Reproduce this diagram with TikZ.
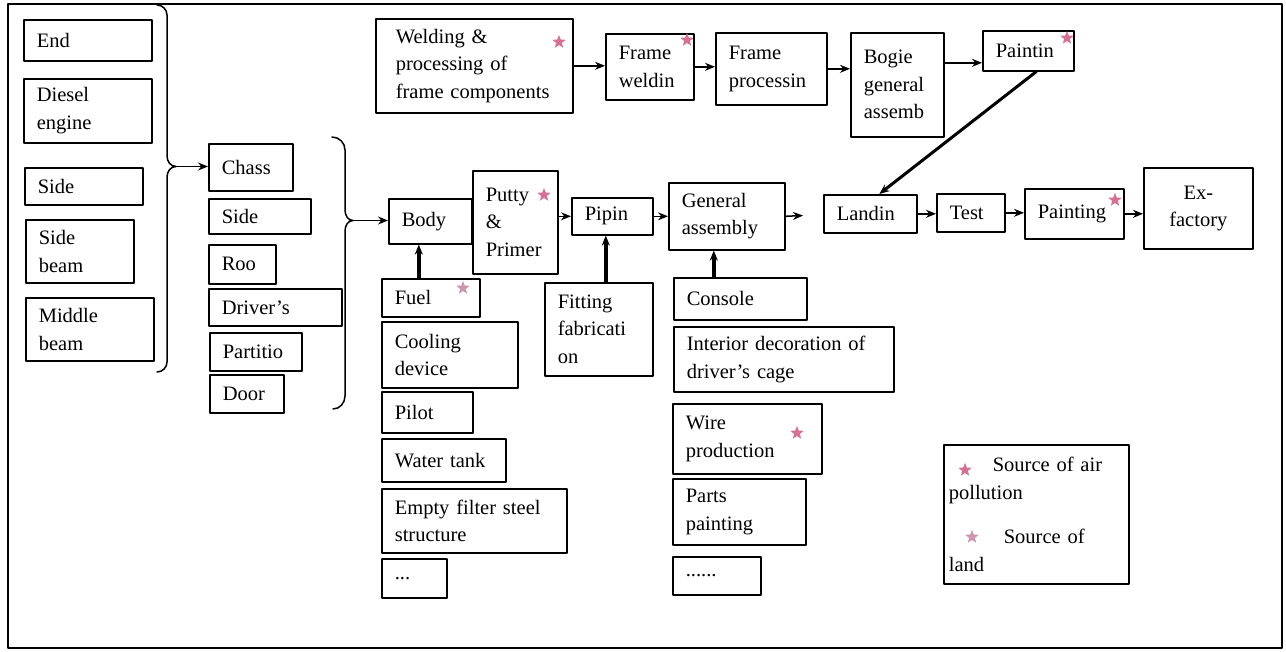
\documentclass[tikz,border=0pt]{standalone}
\usepackage{fontspec}
\setmainfont{Liberation Serif}
\usetikzlibrary{shapes.geometric,arrows.meta}
\definecolor{airpink}{RGB}{214,112,150}
\definecolor{landpink}{RGB}{204,150,175}
\hyphenpenalty=10000
\exhyphenpenalty=10000
\begin{document}
\begin{tikzpicture}[x=1pt, y=-1pt, line cap=round, line join=round, font=\fontsize{20.5}{27.5}\selectfont, >={Stealth[length=10pt,width=8pt]}]
	\tikzset{box/.style={draw, line width=1.6pt, anchor=north west, inner xsep=13pt, inner ysep=0pt, align=left},
		airstar/.style={star, star points=5, star point ratio=2.3, fill=airpink, inner sep=0pt, minimum size=14pt},
		landstar/.style={airstar, fill=landpink},
		link/.style={->, line width=1.5pt},
		feed/.style={->, line width=3.5pt}}
	\fill[white] (0,0) rectangle (1286,652);
	\draw[line width=2.5pt] (8,4) rectangle (1282,648);
	\node[box, text width=102pt, minimum height=41] (end) at (23,19) {End};
	\node[box, text width=102pt, minimum height=64] (diesel) at (23,78) {Diesel\\engine};
	\node[box, text width=92pt, minimum height=37] (sidea) at (24,167) {Side};
	\node[box, text width=82pt, minimum height=63] (sidebeam) at (25,219) {Side\\beam};
	\node[box, text width=102pt, minimum height=63] (middle) at (25,297) {Middle\\beam};
	\draw[line width=1.5pt] (157,5) to[out=0,in=90] (167,15) -- (167,156) to[out=-90,in=180] (176,166.5) to[out=180,in=90] (167,177) -- (167,362) to[out=-90,in=0] (157,372);
	\coordinate (brA) at (176,166.5);
	\node[box, text width=58pt, minimum height=47] (chass) at (208,143) {Chass};
	\node[box, text width=76pt, minimum height=35] (sideb) at (208,198) {Side};
	\node[box, text width=41pt, minimum height=39] (roo) at (208,244) {Roo};
	\node[box, text width=107pt, minimum height=37] (driver) at (208,288) {Driver’s};
	\node[box, text width=66pt, minimum height=38] (partitio) at (209,332) {Partitio};
	\node[box, text width=48pt, minimum height=38] (door) at (209,374) {Door};
	\draw[line width=1.5pt] (332,137) to[out=0,in=90] (345,150) -- (345,210) to[out=-90,in=180] (353,220.5) to[out=180,in=90] (345,231) -- (345,396) to[out=-90,in=0] (333,409);
	\coordinate (brB) at (353,220.5);
	\node[box, inner xsep=20pt, text width=157pt, minimum height=94] (weld) at (375,18) {Welding \&\\processing of\\frame components};
	\node[box, text width=62pt, minimum height=66] (fweld) at (605,33) {Frame\\weldin};
	\node[box, text width=85pt, minimum height=72] (fproc) at (715,32) {Frame\\processin};
	\node[box, text width=67pt, minimum height=104] (bogie) at (850,32) {Bogie\\general\\assemb};
	\node[box, text width=65pt, minimum height=40] (paintin) at (982,30) {Paintin};
	\node[box, text width=57pt, minimum height=45] (body) at (388,198) {Body};
	\node[box, text width=59pt, minimum height=103] (putty) at (472,170) {Putty\\\&\\Primer};
	\node[box, text width=55pt, minimum height=37] (pipin) at (571,197) {Pipin};
	\node[box, text width=90pt, minimum height=67] (gen) at (668,182) {General\\assembly};
	\coordinate (genout) at (803,215.5);
	\node[box, text width=67pt, minimum height=38] (landin) at (823,194) {Landin};
	\node[box, text width=42pt, minimum height=38] (test) at (936,193) {Test};
	\node[box, text width=73pt, minimum height=50] (painting) at (1024,188) {Painting};
	\node[box, text width=83pt, minimum height=81, align=center] (exf) at (1143,167) {Ex-\\factory};
	\node[box, text width=72pt, minimum height=38] (fuel) at (381,278) {Fuel};
	\node[box, text width=110pt, minimum height=66] (cooling) at (381,321) {Cooling\\device};
	\node[box, text width=65pt, minimum height=41] (pilot) at (381,391) {Pilot};
	\node[box, text width=98pt, minimum height=43] (water) at (381,438) {Water tank};
	\node[box, text width=159pt, minimum height=64] (empty) at (381,488) {Empty filter steel\\structure};
	\node[box, text width=39pt, minimum height=39] (dotsa) at (381,558) {...};
	\node[box, text width=82pt, minimum height=93] (fitting) at (544,282) {Fitting\\fabricati\\on};
	\node[box, text width=107pt, minimum height=42] (console) at (673,277) {Console};
	\node[box, text width=194pt, minimum height=65] (interior) at (673,326) {Interior decoration of\\driver’s cage};
	\node[box, text width=123pt, minimum height=70] (wire) at (672,403) {Wire\\production};
	\node[box, text width=107pt, minimum height=66] (parts) at (672,478) {Parts\\painting};
	\node[box, text width=62pt, minimum height=38] (dotsb) at (672,556) {......};
	\node[box, inner xsep=5pt, text width=175pt, minimum height=139] (legend) at (943,444) {\hspace*{44pt}Source of air\\pollution\\[17pt]\hspace*{55pt}Source of\\land};
	\node[airstar] (s1) at (559,42) {};
	\node[airstar] (s2) at (687,40) {};
	\node[airstar] (s3) at (1067,38) {};
	\node[airstar] (s4) at (544,195) {};
	\node[landstar] (s5) at (463,288) {};
	\node[airstar] (s6) at (797,433) {};
	\node[airstar] (s7) at (1115,200) {};
	\node[airstar] (s8) at (965,470) {};
	\node[landstar] (s9) at (972,537) {};
	\draw[link] (brA) -- (brA -| chass.west);
	\draw[link] (brB) -- (brB -| body.west);
	\draw[link] (weld.east) -- (weld.east -| fweld.west);
	\draw[link] (fweld.east) -- (fweld.east -| fproc.west);
	\draw[link] (fproc.east) -- (fproc.east -| bogie.west);
	\draw[link] ([yshift=22pt]bogie.east) -- ([yshift=22pt]bogie.east -| paintin.west);
	\draw[->, line width=3pt] ([xshift=8pt]paintin.south) -- ([xshift=9pt]landin.north);
	\draw[link] (putty.east |- pipin.west) -- (pipin.west);
	\draw[link] (pipin.east) -- (pipin.east -| gen.west);
	\draw[link] (gen.east) -- (genout);
	\draw[link] (landin.east) -- (landin.east -| test.west);
	\draw[link] (test.east) -- (test.east -| painting.west);
	\draw[link] (painting.east) -- (painting.east -| exf.west);
	\draw[feed] ([xshift=-12pt]fuel.north) -- ([xshift=-12pt]fuel.north |- body.south);
	\draw[feed] ([xshift=7pt]fitting.north) -- ([xshift=7pt]fitting.north |- pipin.south);
	\draw[feed] ([xshift=-26.5pt]console.north) -- ([xshift=-26.5pt]console.north |- gen.south);
	\useasboundingbox (0,0) rectangle (1286,652);
\end{tikzpicture}
\end{document}
